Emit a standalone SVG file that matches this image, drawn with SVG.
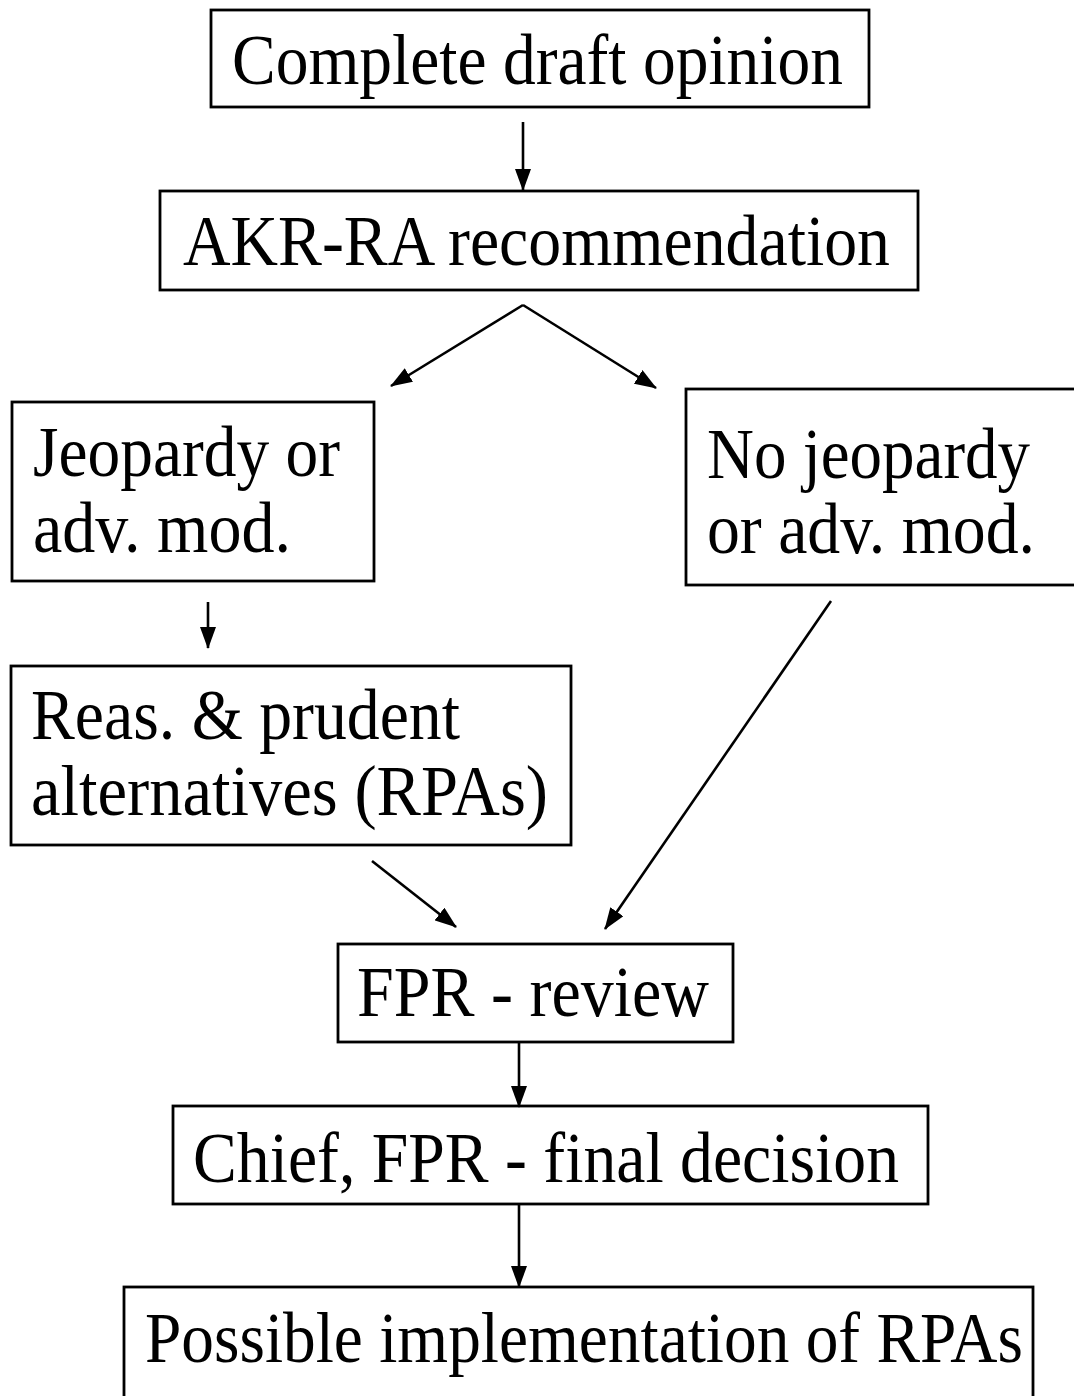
<svg xmlns="http://www.w3.org/2000/svg" width="1074" height="1396" viewBox="0 0 1074 1396">
<style>
.box{fill:#fff;stroke:#000;stroke-width:2.8}
.t{font-family:"Liberation Serif","Times New Roman",serif;font-size:71px;fill:#000}
.c{stroke:#000;stroke-width:2.6;fill:none}
</style>
<defs>
<marker id="ah" markerWidth="22" markerHeight="16" refX="21" refY="8" orient="auto" markerUnits="userSpaceOnUse">
<path d="M0,0 L22,8 L0,16 Z" fill="#000"/>
</marker>
</defs>
<rect width="1074" height="1396" fill="#fff"/>
<g id="n1"><rect class="box" x="211" y="10" width="658" height="97"/><text class="t" x="232" y="84" textLength="611" lengthAdjust="spacingAndGlyphs">Complete draft opinion</text></g>
<g id="n2"><rect class="box" x="160" y="191" width="758" height="99"/><text class="t" x="183" y="265" textLength="707" lengthAdjust="spacingAndGlyphs">AKR-RA recommendation</text></g>
<g id="n3"><rect class="box" x="12" y="402" width="362" height="179"/><text class="t" x="33" y="476" textLength="307" lengthAdjust="spacingAndGlyphs">Jeopardy or</text><text class="t" x="33" y="552" textLength="258" lengthAdjust="spacingAndGlyphs">adv. mod.</text></g>
<g id="n4"><rect class="box" x="686" y="389" width="392" height="196"/><text class="t" x="707" y="478" textLength="323" lengthAdjust="spacingAndGlyphs">No jeopardy</text><text class="t" x="707" y="553" textLength="328" lengthAdjust="spacingAndGlyphs">or adv. mod.</text></g>
<g id="n5"><rect class="box" x="11" y="666" width="560" height="179"/><text class="t" x="31" y="739" textLength="429" lengthAdjust="spacingAndGlyphs">Reas. &amp; prudent</text><text class="t" x="31" y="815" textLength="517" lengthAdjust="spacingAndGlyphs">alternatives (RPAs)</text></g>
<g id="n6"><rect class="box" x="338" y="944" width="395" height="98"/><text class="t" x="357" y="1016" textLength="352" lengthAdjust="spacingAndGlyphs">FPR - review</text></g>
<g id="n7"><rect class="box" x="173" y="1106" width="755" height="98"/><text class="t" x="193" y="1182" textLength="706" lengthAdjust="spacingAndGlyphs">Chief, FPR - final decision</text></g>
<g id="n8"><rect class="box" x="124" y="1287" width="909" height="120"/><text class="t" x="145" y="1362" textLength="878" lengthAdjust="spacingAndGlyphs">Possible implementation of RPAs</text></g>
<g id="connectors">
<line class="c" x1="523" y1="122" x2="523" y2="190" marker-end="url(#ah)"/>
<line class="c" x1="523" y1="305" x2="391" y2="386" marker-end="url(#ah)"/>
<line class="c" x1="523" y1="305" x2="656" y2="388" marker-end="url(#ah)"/>
<line class="c" x1="208" y1="602" x2="208" y2="648" marker-end="url(#ah)"/>
<line class="c" x1="831" y1="601" x2="605" y2="929" marker-end="url(#ah)"/>
<line class="c" x1="372" y1="861" x2="456" y2="927" marker-end="url(#ah)"/>
<line class="c" x1="519" y1="1042" x2="519" y2="1107" marker-end="url(#ah)"/>
<line class="c" x1="519" y1="1205" x2="519" y2="1287" marker-end="url(#ah)"/>
</g>
</svg>
